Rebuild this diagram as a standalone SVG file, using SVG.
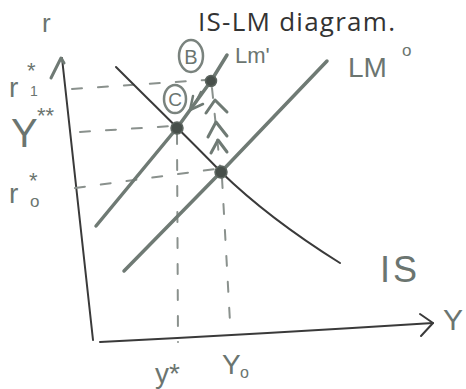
<svg xmlns="http://www.w3.org/2000/svg" width="466" height="389" viewBox="0 0 466 389">
<style>
.ink{fill:none;stroke:#3a3a3a;stroke-width:2;stroke-linecap:round;stroke-linejoin:round}
.pen{fill:none;stroke:#6f7a74;stroke-width:3.5;stroke-linecap:round;stroke-linejoin:round}
.dash{fill:none;stroke:#8a918d;stroke-width:2;stroke-dasharray:10 16;stroke-linecap:round}
.dot{fill:#474f4a;stroke:#5c655f;stroke-width:1.5}
.hw{font-family:"Liberation Sans",Arial,sans-serif;fill:#6b7570}
.title{font-family:"Open Sans","Liberation Sans",sans-serif;fill:#333;font-size:26px}
</style>
<rect width="466" height="389" fill="#fff"/>
<text class="title" x="198" y="31" textLength="197">IS-LM diagram.</text>

<g id="axes">
<path class="ink" d="M62,58 L93,340"/>
<path class="pen" d="M51,78 L61,58 L64,63" style="stroke-width:3"/>
<path class="ink" d="M100,342 Q260,334 433,323"/>
<path class="ink" d="M420,314 L433,323 L421,336"/>
</g>

<g id="connectors">
<path class="dash" d="M72,89 L206,80"/>
<path class="dash" d="M80,132 L172,126"/>
<path class="dash" d="M75,188 L215,169"/>
<path class="dash" d="M177,134 L178,342"/>
<path class="dash" d="M222,178 L230,322"/>
<path class="dash" d="M212,88 L220,166"/>
</g>

<g id="IS">
<path class="ink" d="M116,67 C150,101 200,150 221,172 C260,210 300,238 340,263"/>
<text class="hw" x="380" y="282" font-size="36" letter-spacing="3">IS</text>
</g>

<g id="LM1">
<path class="pen" d="M96,226 L177,128 L211,81 L227,55"/>
<text class="hw" x="235" y="63" font-size="22">Lm'</text>
</g>

<g id="LM0">
<path class="pen" d="M124,271 L221,172 L327,61"/>
<text class="hw" x="348" y="77" font-size="28">LM</text>
<text class="hw" x="402" y="56" font-size="17">o</text>
</g>

<g id="pointB">
<circle class="dot" cx="211" cy="81" r="5.5"/>
<ellipse cx="191" cy="56" rx="12" ry="16" fill="none" stroke="#7a837e" stroke-width="2.5"/>
<text class="hw" x="191" y="64" font-size="20" text-anchor="middle">B</text>
</g>

<g id="pointC">
<circle class="dot" cx="177" cy="128" r="6"/>
<ellipse cx="175" cy="99" rx="11" ry="14" fill="none" stroke="#7a837e" stroke-width="2.5"/>
<text class="hw" x="175" y="106" font-size="19" text-anchor="middle">C</text>
<path class="pen" d="M190,110 L193,96 M190,110 L203,104 M196,102 L201,92" style="stroke-width:2.5"/>
</g>

<g id="point0">
<circle class="dot" cx="221" cy="172" r="6"/>
<path class="pen" d="M206,113 L215,100 L227,112 M208,137 L216,122 L227,136 M211,153 L218,140 L227,152" style="stroke-width:3"/>
</g>

<g id="labels">
<text class="hw" x="42" y="32" font-size="26">r</text>
<text class="hw" x="9" y="97" font-size="28">r</text>
<text class="hw" x="30" y="96" font-size="14">1</text>
<text class="hw" x="27" y="78" font-size="22">*</text>
<text class="hw" x="11" y="147" font-size="40">Y</text>
<text class="hw" x="37" y="123" font-size="22">**</text>
<text class="hw" x="9" y="203" font-size="28">r</text>
<text class="hw" x="30" y="207" font-size="17">o</text>
<text class="hw" x="29" y="188" font-size="22">*</text>
<text class="hw" x="443" y="330" font-size="30">Y</text>
<text class="hw" x="155" y="383" font-size="28">y*</text>
<text class="hw" x="222" y="374" font-size="28">Y</text>
<text class="hw" x="240" y="378" font-size="16">o</text>
</g>
</svg>
